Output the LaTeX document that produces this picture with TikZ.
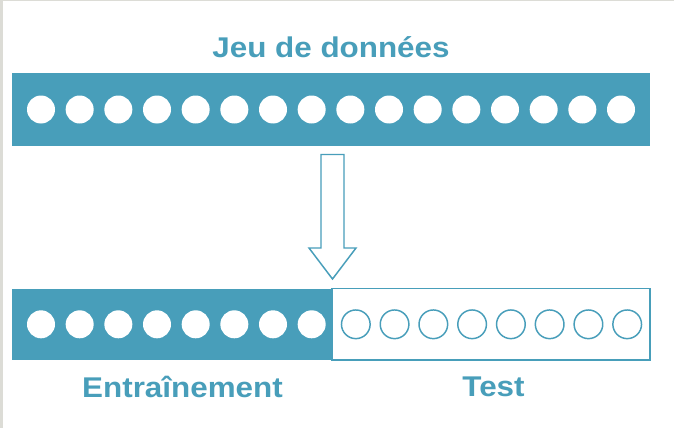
\documentclass[tikz,border=0pt]{standalone}
\usepackage{fontspec}
\setmainfont{Liberation Sans}
\newfontfamily\lblfont{Liberation Sans}[FakeStretch=1.1]
\definecolor{teal1}{HTML}{489EBA}
\definecolor{edgegray}{HTML}{DCDCD6}
\begin{document}
\begin{tikzpicture}[x=0.75pt,y=-0.75pt,
  bar/.style={fill=teal1, draw=none},
  obar/.style={fill=white, draw=teal1, line width=1.1pt},
  dot/.style={circle, fill=white, draw=none, minimum size=21pt, inner sep=0pt},
  odot/.style={circle, fill=white, draw=teal1, line width=1.1pt, minimum size=21.5pt, inner sep=0pt},
  lbl/.style={text=teal1, font=\lblfont\fontsize{21.4}{24}\selectfont\bfseries, inner sep=0pt},
  blockarrow/.style={draw=teal1, fill=white, line width=1.1pt, line join=miter}]
\useasboundingbox (0,0) rectangle (674,428);
\fill[white] (0,0) rectangle (674,428);
\fill[edgegray] (0,0) rectangle (3,428);
\fill[edgegray] (0,0) rectangle (674,1.5);
% title
\node[lbl] (title) at (331,47) {Jeu de données};
% top bar
\fill[bar] (12,73.5) rectangle (650,145.5);
\foreach \i in {0,...,15} {
  \node[dot] (t\i) at ({41+\i*38.667},109.5) {};
}
% arrow
\coordinate (a1) at (321,154.5);
\coordinate (a2) at (344,154.5);
\coordinate (a3) at (344,248);
\coordinate (a4) at (356,248);
\coordinate (tip) at (332.5,279);
\coordinate (a6) at (309,248);
\coordinate (a7) at (321,248);
\draw[blockarrow] (a1) -- (a2) -- (a3) -- (a4) -- (tip) -- (a6) -- (a7) -- cycle;
% bottom bar
\fill[bar] (12,288.5) rectangle (332,360);
\draw[obar] (332,288.5) rectangle (650,360);
\foreach \i in {0,...,7} {
  \node[dot] (b\i) at ({41+\i*38.667},324.3) {};
}
\foreach \i in {0,...,7} {
  \node[odot] (c\i) at ({355.8+\i*38.77},324.3) {};
}
\node[lbl] (train) at (182.5,387) {Entraînement};
\node[lbl] (test) at (493.5,387) {Test};
\end{tikzpicture}
\end{document}
